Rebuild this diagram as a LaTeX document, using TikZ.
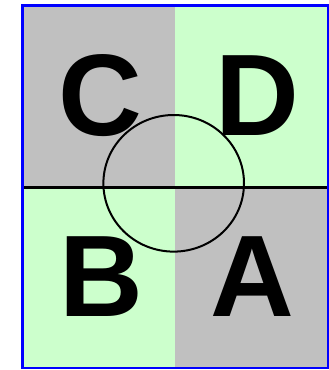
\documentclass[tikz,border=0pt]{standalone}
\usepackage{fontspec}
\setmainfont{Liberation Sans}
\usepackage{tikz}
\usetikzlibrary{positioning}
\definecolor{quadgray}{HTML}{C0C0C0}
\definecolor{quadgreen}{HTML}{CCFFCC}
\tikzset{
  letter/.style={font=\fontsize{116}{116}\selectfont\bfseries, inner sep=0pt, anchor=center},
  frame/.style={draw=blue, line width=2.5pt},
  axis/.style={draw=black, line width=2.5pt},
  ring/.style={draw=black, line width=2pt}
}
\begin{document}
\begin{tikzpicture}[x=1pt, y=-1pt]
\useasboundingbox (0,0) rectangle (329,370);
% quadrants
\fill[quadgray]  (22.5,5.5) rectangle (175,187.7);
\fill[quadgreen] (175,5.5) rectangle (328,187.7);
\fill[quadgreen] (22.5,187.7) rectangle (175,368);
\fill[quadgray]  (175,187.7) rectangle (328,368);
% letters
\node[letter] (c) at (100,96) {C};
\node[letter] (d) at (257,96) {D};
\node[letter] (b) at (101.5,277) {B};
\node[letter] (a) at (252.5,277) {A};
% split line and circle
\coordinate (west) at (22.5,187.7);
\coordinate (east) at (329,187.7);
\draw[axis] (west) -- (east);
\draw[ring] (173.7,183.3) ellipse [x radius=70.3, y radius=68.3];
\draw[frame] (22.5,5.5) rectangle (328,368);
\end{tikzpicture}
\end{document}
